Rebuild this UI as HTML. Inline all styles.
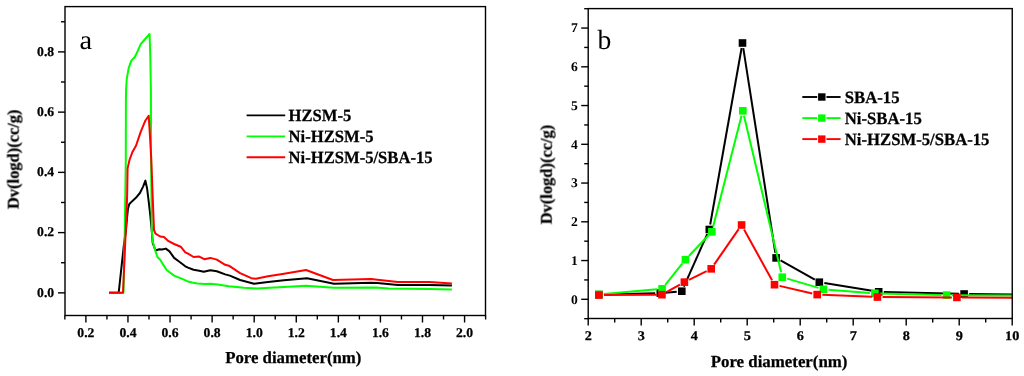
<!DOCTYPE html>
<html><head><meta charset="utf-8"><title>Pore size distribution</title>
<style>
html,body{margin:0;padding:0;background:#fff;}
body{width:1024px;height:376px;overflow:hidden;}
svg{display:block;}
svg text{font-family:"Liberation Serif","DejaVu Serif",serif;fill:#000;text-rendering:geometricPrecision;}
</style></head><body>
<svg width="1024" height="376" viewBox="0 0 1024 376">
<rect x="0" y="0" width="1024" height="376" fill="#ffffff"/>
<defs><filter id="soft" x="0" y="0" width="1024" height="376" filterUnits="userSpaceOnUse"><feGaussianBlur stdDeviation="0.4"/></filter></defs>
<g filter="url(#soft)">
<polyline points="109.0,292.7 118.7,292.7 123.9,244.9 126.0,230.0 127.0,218.0 127.9,209.3 129.2,204.2 131.9,201.4 135.9,197.8 139.9,193.0 143.1,186.6 145.4,180.6 147.1,188.5 148.7,201.5 150.3,215.5 151.7,230.0 152.7,243.0 155.5,250.5 159.3,249.2 162.0,249.5 165.8,248.6 169.5,251.4 174.1,257.9 179.7,262.0 185.3,266.3 188.0,267.6 193.6,269.8 199.2,270.7 203.8,271.8 210.3,270.3 216.8,271.3 225.2,274.4 229.9,275.6 240.1,280.0 254.0,283.7 268.0,281.9 284.0,280.2 307.0,278.2 334.0,283.7 371.2,282.8 377.4,283.0 397.9,284.9 429.5,284.9 451.9,285.6" fill="none" stroke="#000000" stroke-width="2.0" stroke-linejoin="round" stroke-linecap="butt"/>
<polyline points="109.0,292.7 123.5,292.7 124.8,230.0 125.8,160.0 125.9,100.0 126.1,90.0 126.7,79.5 128.6,68.4 131.3,60.6 134.7,57.2 137.9,50.7 140.7,44.2 144.7,39.5 149.6,34.0 150.3,57.0 150.9,90.0 151.1,160.0 151.8,230.0 152.7,241.2 155.2,250.5 157.4,257.0 160.2,259.8 163.0,264.4 166.7,270.0 174.1,275.6 181.6,278.7 187.2,281.2 192.0,282.5 197.3,283.4 204.7,284.1 210.3,283.7 217.8,284.5 228.9,286.3 243.8,287.8 256.8,288.4 269.9,287.7 284.0,286.9 306.0,285.8 334.0,287.8 376.0,287.6 388.6,288.6 429.5,289.0 451.9,289.5" fill="none" stroke="#00ff00" stroke-width="2.0" stroke-linejoin="round" stroke-linecap="butt"/>
<polyline points="109.0,292.7 123.0,292.7 125.8,230.0 127.1,197.2 127.6,168.4 129.5,160.0 132.3,152.3 136.0,145.8 140.7,131.9 145.3,120.7 148.7,115.7 150.0,136.5 151.3,160.0 152.7,197.0 154.0,230.0 155.5,233.7 160.2,236.5 163.9,237.0 168.6,241.2 174.1,244.0 180.7,246.7 185.3,252.3 188.0,253.6 193.6,257.0 199.2,256.6 204.4,259.2 210.3,257.9 216.8,259.6 225.2,264.8 228.9,265.7 240.1,273.1 251.3,278.2 255.9,278.7 268.0,276.3 284.0,273.7 306.0,270.0 333.0,280.0 371.2,279.1 377.4,279.7 397.9,281.9 429.5,281.9 451.9,283.4" fill="none" stroke="#ff0000" stroke-width="2.0" stroke-linejoin="round" stroke-linecap="butt"/>
<rect x="65.0" y="6.6" width="420.5" height="308.9" fill="none" stroke="#000" stroke-width="1.4"/>
<line x1="58.00" y1="292.85" x2="65.00" y2="292.85" stroke="#000" stroke-width="1.4"/>
<text transform="translate(54.20,296.65) scale(1.02,1.0)" font-size="13.4" font-weight="bold" text-anchor="end" stroke="#000" stroke-width="0.25" >0.0</text>
<line x1="61.00" y1="262.73" x2="65.00" y2="262.73" stroke="#000" stroke-width="1.4"/>
<line x1="58.00" y1="232.61" x2="65.00" y2="232.61" stroke="#000" stroke-width="1.4"/>
<text transform="translate(54.20,236.41) scale(1.02,1.0)" font-size="13.4" font-weight="bold" text-anchor="end" stroke="#000" stroke-width="0.25" >0.2</text>
<line x1="61.00" y1="202.49" x2="65.00" y2="202.49" stroke="#000" stroke-width="1.4"/>
<line x1="58.00" y1="172.37" x2="65.00" y2="172.37" stroke="#000" stroke-width="1.4"/>
<text transform="translate(54.20,176.17) scale(1.02,1.0)" font-size="13.4" font-weight="bold" text-anchor="end" stroke="#000" stroke-width="0.25" >0.4</text>
<line x1="61.00" y1="142.25" x2="65.00" y2="142.25" stroke="#000" stroke-width="1.4"/>
<line x1="58.00" y1="112.13" x2="65.00" y2="112.13" stroke="#000" stroke-width="1.4"/>
<text transform="translate(54.20,115.93) scale(1.02,1.0)" font-size="13.4" font-weight="bold" text-anchor="end" stroke="#000" stroke-width="0.25" >0.6</text>
<line x1="61.00" y1="82.01" x2="65.00" y2="82.01" stroke="#000" stroke-width="1.4"/>
<line x1="58.00" y1="51.89" x2="65.00" y2="51.89" stroke="#000" stroke-width="1.4"/>
<text transform="translate(54.20,55.69) scale(1.02,1.0)" font-size="13.4" font-weight="bold" text-anchor="end" stroke="#000" stroke-width="0.25" >0.8</text>
<line x1="61.00" y1="21.77" x2="65.00" y2="21.77" stroke="#000" stroke-width="1.4"/>
<line x1="64.85" y1="315.50" x2="64.85" y2="319.50" stroke="#000" stroke-width="1.4"/>
<line x1="85.89" y1="315.50" x2="85.89" y2="322.50" stroke="#000" stroke-width="1.4"/>
<text transform="translate(85.89,336.70) scale(1.02,1.0)" font-size="13.4" font-weight="bold" text-anchor="middle" stroke="#000" stroke-width="0.25" >0.2</text>
<line x1="106.93" y1="315.50" x2="106.93" y2="319.50" stroke="#000" stroke-width="1.4"/>
<line x1="127.96" y1="315.50" x2="127.96" y2="322.50" stroke="#000" stroke-width="1.4"/>
<text transform="translate(127.96,336.70) scale(1.02,1.0)" font-size="13.4" font-weight="bold" text-anchor="middle" stroke="#000" stroke-width="0.25" >0.4</text>
<line x1="149.00" y1="315.50" x2="149.00" y2="319.50" stroke="#000" stroke-width="1.4"/>
<line x1="170.04" y1="315.50" x2="170.04" y2="322.50" stroke="#000" stroke-width="1.4"/>
<text transform="translate(170.04,336.70) scale(1.02,1.0)" font-size="13.4" font-weight="bold" text-anchor="middle" stroke="#000" stroke-width="0.25" >0.6</text>
<line x1="191.08" y1="315.50" x2="191.08" y2="319.50" stroke="#000" stroke-width="1.4"/>
<line x1="212.12" y1="315.50" x2="212.12" y2="322.50" stroke="#000" stroke-width="1.4"/>
<text transform="translate(212.12,336.70) scale(1.02,1.0)" font-size="13.4" font-weight="bold" text-anchor="middle" stroke="#000" stroke-width="0.25" >0.8</text>
<line x1="233.15" y1="315.50" x2="233.15" y2="319.50" stroke="#000" stroke-width="1.4"/>
<line x1="254.19" y1="315.50" x2="254.19" y2="322.50" stroke="#000" stroke-width="1.4"/>
<text transform="translate(254.19,336.70) scale(1.02,1.0)" font-size="13.4" font-weight="bold" text-anchor="middle" stroke="#000" stroke-width="0.25" >1.0</text>
<line x1="275.23" y1="315.50" x2="275.23" y2="319.50" stroke="#000" stroke-width="1.4"/>
<line x1="296.27" y1="315.50" x2="296.27" y2="322.50" stroke="#000" stroke-width="1.4"/>
<text transform="translate(296.27,336.70) scale(1.02,1.0)" font-size="13.4" font-weight="bold" text-anchor="middle" stroke="#000" stroke-width="0.25" >1.2</text>
<line x1="317.31" y1="315.50" x2="317.31" y2="319.50" stroke="#000" stroke-width="1.4"/>
<line x1="338.34" y1="315.50" x2="338.34" y2="322.50" stroke="#000" stroke-width="1.4"/>
<text transform="translate(338.34,336.70) scale(1.02,1.0)" font-size="13.4" font-weight="bold" text-anchor="middle" stroke="#000" stroke-width="0.25" >1.4</text>
<line x1="359.38" y1="315.50" x2="359.38" y2="319.50" stroke="#000" stroke-width="1.4"/>
<line x1="380.42" y1="315.50" x2="380.42" y2="322.50" stroke="#000" stroke-width="1.4"/>
<text transform="translate(380.42,336.70) scale(1.02,1.0)" font-size="13.4" font-weight="bold" text-anchor="middle" stroke="#000" stroke-width="0.25" >1.6</text>
<line x1="401.46" y1="315.50" x2="401.46" y2="319.50" stroke="#000" stroke-width="1.4"/>
<line x1="422.50" y1="315.50" x2="422.50" y2="322.50" stroke="#000" stroke-width="1.4"/>
<text transform="translate(422.50,336.70) scale(1.02,1.0)" font-size="13.4" font-weight="bold" text-anchor="middle" stroke="#000" stroke-width="0.25" >1.8</text>
<line x1="443.53" y1="315.50" x2="443.53" y2="319.50" stroke="#000" stroke-width="1.4"/>
<line x1="464.57" y1="315.50" x2="464.57" y2="322.50" stroke="#000" stroke-width="1.4"/>
<text transform="translate(464.57,336.70) scale(1.02,1.0)" font-size="13.4" font-weight="bold" text-anchor="middle" stroke="#000" stroke-width="0.25" >2.0</text>
<line x1="485.61" y1="315.50" x2="485.61" y2="319.50" stroke="#000" stroke-width="1.4"/>
<text transform="translate(293.30,363.10)" font-size="16.8" font-weight="bold" text-anchor="middle" stroke="#000" stroke-width="0.25" >Pore diameter(nm)</text>
<text transform="translate(18.60,159.30) rotate(-90)" font-size="16.45" font-weight="bold" text-anchor="middle" stroke="#000" stroke-width="0.25" >Dv(logd)(cc/g)</text>
<text transform="translate(79.40,48.50) scale(1.0,0.95)" font-size="28.5" font-weight="normal" text-anchor="start"  >a</text>
<line x1="246.60" y1="115.40" x2="285.20" y2="115.40" stroke="#000000" stroke-width="1.9"/>
<text transform="translate(288.60,121.40) scale(1.0,1.03)" font-size="16.62" font-weight="bold" text-anchor="start" stroke="#000" stroke-width="0.25" >HZSM-5</text>
<line x1="246.60" y1="136.40" x2="285.20" y2="136.40" stroke="#00ff00" stroke-width="1.9"/>
<text transform="translate(288.60,142.40) scale(1.0,1.03)" font-size="16.62" font-weight="bold" text-anchor="start" stroke="#000" stroke-width="0.25" >Ni-HZSM-5</text>
<line x1="246.60" y1="157.20" x2="285.20" y2="157.20" stroke="#ff0000" stroke-width="1.9"/>
<text transform="translate(288.60,163.20) scale(1.0,1.03)" font-size="16.62" font-weight="bold" text-anchor="start" stroke="#000" stroke-width="0.25" >Ni-HZSM-5/SBA-15</text>
<clipPath id="cr"><rect x="588.5" y="8.6" width="423.75" height="309.9"/></clipPath>
<g clip-path="url(#cr)">
<line x1="603.95" y1="294.48" x2="655.20" y2="293.22" stroke="#000000" stroke-width="2.0"/>
<line x1="665.38" y1="292.65" x2="676.72" y2="291.65" stroke="#000000" stroke-width="2.0"/>
<line x1="683.88" y1="286.54" x2="707.22" y2="234.16" stroke="#000000" stroke-width="2.0"/>
<line x1="710.19" y1="224.48" x2="741.61" y2="48.02" stroke="#000000" stroke-width="2.0"/>
<line x1="743.29" y1="48.04" x2="775.31" y2="252.86" stroke="#000000" stroke-width="2.0"/>
<line x1="780.55" y1="260.40" x2="814.85" y2="279.70" stroke="#000000" stroke-width="2.0"/>
<line x1="824.33" y1="283.01" x2="873.67" y2="290.99" stroke="#000000" stroke-width="2.0"/>
<line x1="883.80" y1="291.93" x2="959.00" y2="293.87" stroke="#000000" stroke-width="2.0"/>
<line x1="969.20" y1="294.06" x2="1064.90" y2="295.24" stroke="#000000" stroke-width="2.0"/>
<rect x="595.05" y="290.80" width="7.6" height="7.6" fill="#000000"/>
<rect x="656.50" y="289.30" width="7.6" height="7.6" fill="#000000"/>
<rect x="678.00" y="287.40" width="7.6" height="7.6" fill="#000000"/>
<rect x="705.50" y="225.70" width="7.6" height="7.6" fill="#000000"/>
<rect x="738.70" y="39.20" width="7.6" height="7.6" fill="#000000"/>
<rect x="772.30" y="254.10" width="7.6" height="7.6" fill="#000000"/>
<rect x="815.50" y="278.40" width="7.6" height="7.6" fill="#000000"/>
<rect x="874.90" y="288.00" width="7.6" height="7.6" fill="#000000"/>
<rect x="960.30" y="290.20" width="7.6" height="7.6" fill="#000000"/>
<rect x="1066.20" y="291.50" width="7.6" height="7.6" fill="#000000"/>
<line x1="603.93" y1="293.95" x2="657.02" y2="289.25" stroke="#00ff00" stroke-width="2.0"/>
<line x1="665.29" y1="284.82" x2="682.21" y2="263.68" stroke="#00ff00" stroke-width="2.0"/>
<line x1="688.91" y1="256.00" x2="708.34" y2="235.50" stroke="#00ff00" stroke-width="2.0"/>
<line x1="713.11" y1="226.86" x2="741.54" y2="115.74" stroke="#00ff00" stroke-width="2.0"/>
<line x1="743.98" y1="115.76" x2="781.12" y2="272.24" stroke="#00ff00" stroke-width="2.0"/>
<line x1="787.19" y1="278.64" x2="818.51" y2="287.86" stroke="#00ff00" stroke-width="2.0"/>
<line x1="828.48" y1="289.69" x2="869.82" y2="292.91" stroke="#00ff00" stroke-width="2.0"/>
<line x1="880.00" y1="293.43" x2="941.50" y2="294.97" stroke="#00ff00" stroke-width="2.0"/>
<line x1="951.70" y1="295.14" x2="1064.90" y2="295.96" stroke="#00ff00" stroke-width="2.0"/>
<rect x="595.05" y="290.60" width="7.6" height="7.6" fill="#00ff00"/>
<rect x="658.30" y="285.00" width="7.6" height="7.6" fill="#00ff00"/>
<rect x="681.60" y="255.90" width="7.6" height="7.6" fill="#00ff00"/>
<rect x="708.05" y="228.00" width="7.6" height="7.6" fill="#00ff00"/>
<rect x="739.00" y="107.00" width="7.6" height="7.6" fill="#00ff00"/>
<rect x="778.50" y="273.40" width="7.6" height="7.6" fill="#00ff00"/>
<rect x="819.60" y="285.50" width="7.6" height="7.6" fill="#00ff00"/>
<rect x="871.10" y="289.50" width="7.6" height="7.6" fill="#00ff00"/>
<rect x="942.80" y="291.30" width="7.6" height="7.6" fill="#00ff00"/>
<rect x="1066.20" y="292.20" width="7.6" height="7.6" fill="#00ff00"/>
<line x1="603.95" y1="295.02" x2="656.85" y2="294.73" stroke="#ff0000" stroke-width="2.0"/>
<line x1="666.40" y1="292.21" x2="679.95" y2="284.64" stroke="#ff0000" stroke-width="2.0"/>
<line x1="688.97" y1="279.88" x2="706.63" y2="271.12" stroke="#ff0000" stroke-width="2.0"/>
<line x1="714.11" y1="264.66" x2="738.69" y2="229.19" stroke="#ff0000" stroke-width="2.0"/>
<line x1="744.06" y1="229.47" x2="772.04" y2="280.23" stroke="#ff0000" stroke-width="2.0"/>
<line x1="779.47" y1="285.85" x2="812.23" y2="293.45" stroke="#ff0000" stroke-width="2.0"/>
<line x1="822.30" y1="294.81" x2="872.30" y2="296.84" stroke="#ff0000" stroke-width="2.0"/>
<line x1="882.50" y1="297.07" x2="951.80" y2="297.38" stroke="#ff0000" stroke-width="2.0"/>
<line x1="962.00" y1="297.44" x2="1064.90" y2="298.16" stroke="#ff0000" stroke-width="2.0"/>
<rect x="595.05" y="291.25" width="7.6" height="7.6" fill="#ff0000"/>
<rect x="658.15" y="290.90" width="7.6" height="7.6" fill="#ff0000"/>
<rect x="680.60" y="278.35" width="7.6" height="7.6" fill="#ff0000"/>
<rect x="707.40" y="265.05" width="7.6" height="7.6" fill="#ff0000"/>
<rect x="737.80" y="221.20" width="7.6" height="7.6" fill="#ff0000"/>
<rect x="770.70" y="280.90" width="7.6" height="7.6" fill="#ff0000"/>
<rect x="813.40" y="290.80" width="7.6" height="7.6" fill="#ff0000"/>
<rect x="873.60" y="293.25" width="7.6" height="7.6" fill="#ff0000"/>
<rect x="953.10" y="293.60" width="7.6" height="7.6" fill="#ff0000"/>
<rect x="1066.20" y="294.40" width="7.6" height="7.6" fill="#ff0000"/>
</g>
<rect x="588.2" y="8.6" width="424.04999999999995" height="309.9" fill="none" stroke="#000" stroke-width="1.4"/>
<line x1="584.20" y1="318.68" x2="588.20" y2="318.68" stroke="#000" stroke-width="1.4"/>
<line x1="581.20" y1="299.30" x2="588.20" y2="299.30" stroke="#000" stroke-width="1.4"/>
<text transform="translate(577.80,303.60) scale(1.03,1.0)" font-size="13.2" font-weight="bold" text-anchor="end"  >0</text>
<line x1="584.20" y1="279.93" x2="588.20" y2="279.93" stroke="#000" stroke-width="1.4"/>
<line x1="581.20" y1="260.55" x2="588.20" y2="260.55" stroke="#000" stroke-width="1.4"/>
<text transform="translate(577.80,264.85) scale(1.03,1.0)" font-size="13.2" font-weight="bold" text-anchor="end"  >1</text>
<line x1="584.20" y1="241.18" x2="588.20" y2="241.18" stroke="#000" stroke-width="1.4"/>
<line x1="581.20" y1="221.80" x2="588.20" y2="221.80" stroke="#000" stroke-width="1.4"/>
<text transform="translate(577.80,226.10) scale(1.03,1.0)" font-size="13.2" font-weight="bold" text-anchor="end"  >2</text>
<line x1="584.20" y1="202.43" x2="588.20" y2="202.43" stroke="#000" stroke-width="1.4"/>
<line x1="581.20" y1="183.05" x2="588.20" y2="183.05" stroke="#000" stroke-width="1.4"/>
<text transform="translate(577.80,187.35) scale(1.03,1.0)" font-size="13.2" font-weight="bold" text-anchor="end"  >3</text>
<line x1="584.20" y1="163.68" x2="588.20" y2="163.68" stroke="#000" stroke-width="1.4"/>
<line x1="581.20" y1="144.30" x2="588.20" y2="144.30" stroke="#000" stroke-width="1.4"/>
<text transform="translate(577.80,148.60) scale(1.03,1.0)" font-size="13.2" font-weight="bold" text-anchor="end"  >4</text>
<line x1="584.20" y1="124.93" x2="588.20" y2="124.93" stroke="#000" stroke-width="1.4"/>
<line x1="581.20" y1="105.55" x2="588.20" y2="105.55" stroke="#000" stroke-width="1.4"/>
<text transform="translate(577.80,109.85) scale(1.03,1.0)" font-size="13.2" font-weight="bold" text-anchor="end"  >5</text>
<line x1="584.20" y1="86.18" x2="588.20" y2="86.18" stroke="#000" stroke-width="1.4"/>
<line x1="581.20" y1="66.80" x2="588.20" y2="66.80" stroke="#000" stroke-width="1.4"/>
<text transform="translate(577.80,71.10) scale(1.03,1.0)" font-size="13.2" font-weight="bold" text-anchor="end"  >6</text>
<line x1="584.20" y1="47.43" x2="588.20" y2="47.43" stroke="#000" stroke-width="1.4"/>
<line x1="581.20" y1="28.05" x2="588.20" y2="28.05" stroke="#000" stroke-width="1.4"/>
<text transform="translate(577.80,32.35) scale(1.03,1.0)" font-size="13.2" font-weight="bold" text-anchor="end"  >7</text>
<line x1="584.20" y1="8.68" x2="588.20" y2="8.68" stroke="#000" stroke-width="1.4"/>
<line x1="588.20" y1="318.50" x2="588.20" y2="325.50" stroke="#000" stroke-width="1.4"/>
<text transform="translate(588.20,339.80) scale(1.08,1.0)" font-size="13.2" font-weight="bold" text-anchor="middle" stroke="#000" stroke-width="0.25" >2</text>
<line x1="614.70" y1="318.50" x2="614.70" y2="322.50" stroke="#000" stroke-width="1.4"/>
<line x1="641.20" y1="318.50" x2="641.20" y2="325.50" stroke="#000" stroke-width="1.4"/>
<text transform="translate(641.20,339.80) scale(1.08,1.0)" font-size="13.2" font-weight="bold" text-anchor="middle" stroke="#000" stroke-width="0.25" >3</text>
<line x1="667.70" y1="318.50" x2="667.70" y2="322.50" stroke="#000" stroke-width="1.4"/>
<line x1="694.20" y1="318.50" x2="694.20" y2="325.50" stroke="#000" stroke-width="1.4"/>
<text transform="translate(694.20,339.80) scale(1.08,1.0)" font-size="13.2" font-weight="bold" text-anchor="middle" stroke="#000" stroke-width="0.25" >4</text>
<line x1="720.70" y1="318.50" x2="720.70" y2="322.50" stroke="#000" stroke-width="1.4"/>
<line x1="747.20" y1="318.50" x2="747.20" y2="325.50" stroke="#000" stroke-width="1.4"/>
<text transform="translate(747.20,339.80) scale(1.08,1.0)" font-size="13.2" font-weight="bold" text-anchor="middle" stroke="#000" stroke-width="0.25" >5</text>
<line x1="773.70" y1="318.50" x2="773.70" y2="322.50" stroke="#000" stroke-width="1.4"/>
<line x1="800.20" y1="318.50" x2="800.20" y2="325.50" stroke="#000" stroke-width="1.4"/>
<text transform="translate(800.20,339.80) scale(1.08,1.0)" font-size="13.2" font-weight="bold" text-anchor="middle" stroke="#000" stroke-width="0.25" >6</text>
<line x1="826.70" y1="318.50" x2="826.70" y2="322.50" stroke="#000" stroke-width="1.4"/>
<line x1="853.20" y1="318.50" x2="853.20" y2="325.50" stroke="#000" stroke-width="1.4"/>
<text transform="translate(853.20,339.80) scale(1.08,1.0)" font-size="13.2" font-weight="bold" text-anchor="middle" stroke="#000" stroke-width="0.25" >7</text>
<line x1="879.70" y1="318.50" x2="879.70" y2="322.50" stroke="#000" stroke-width="1.4"/>
<line x1="906.20" y1="318.50" x2="906.20" y2="325.50" stroke="#000" stroke-width="1.4"/>
<text transform="translate(906.20,339.80) scale(1.08,1.0)" font-size="13.2" font-weight="bold" text-anchor="middle" stroke="#000" stroke-width="0.25" >8</text>
<line x1="932.70" y1="318.50" x2="932.70" y2="322.50" stroke="#000" stroke-width="1.4"/>
<line x1="959.20" y1="318.50" x2="959.20" y2="325.50" stroke="#000" stroke-width="1.4"/>
<text transform="translate(959.20,339.80) scale(1.08,1.0)" font-size="13.2" font-weight="bold" text-anchor="middle" stroke="#000" stroke-width="0.25" >9</text>
<line x1="985.70" y1="318.50" x2="985.70" y2="322.50" stroke="#000" stroke-width="1.4"/>
<line x1="1012.20" y1="318.50" x2="1012.20" y2="325.50" stroke="#000" stroke-width="1.4"/>
<text transform="translate(1012.20,339.80) scale(1.08,1.0)" font-size="13.2" font-weight="bold" text-anchor="middle" stroke="#000" stroke-width="0.25" >10</text>
<text transform="translate(779.10,366.75)" font-size="16.85" font-weight="bold" text-anchor="middle" stroke="#000" stroke-width="0.25" >Pore diameter(nm)</text>
<text transform="translate(551.70,174.50) rotate(-90)" font-size="16.45" font-weight="bold" text-anchor="middle" stroke="#000" stroke-width="0.25" >Dv(logd)(cc/g)</text>
<text transform="translate(597.40,49.05)" font-size="27.6" font-weight="normal" text-anchor="start"  >b</text>
<line x1="802.30" y1="97.00" x2="817.20" y2="97.00" stroke="#000000" stroke-width="1.9"/>
<line x1="826.40" y1="97.00" x2="840.60" y2="97.00" stroke="#000000" stroke-width="1.9"/>
<rect x="818.10" y="93.30" width="7.4" height="7.4" fill="#000000"/>
<text transform="translate(844.80,102.80) scale(1.0,1.03)" font-size="16.7" font-weight="bold" text-anchor="start" stroke="#000" stroke-width="0.25" >SBA-15</text>
<line x1="802.30" y1="118.10" x2="817.20" y2="118.10" stroke="#00ff00" stroke-width="1.9"/>
<line x1="826.40" y1="118.10" x2="840.60" y2="118.10" stroke="#00ff00" stroke-width="1.9"/>
<rect x="818.10" y="114.40" width="7.4" height="7.4" fill="#00ff00"/>
<text transform="translate(844.80,123.90) scale(1.0,1.03)" font-size="16.7" font-weight="bold" text-anchor="start" stroke="#000" stroke-width="0.25" >Ni-SBA-15</text>
<line x1="802.30" y1="139.10" x2="817.20" y2="139.10" stroke="#ff0000" stroke-width="1.9"/>
<line x1="826.40" y1="139.10" x2="840.60" y2="139.10" stroke="#ff0000" stroke-width="1.9"/>
<rect x="818.10" y="135.40" width="7.4" height="7.4" fill="#ff0000"/>
<text transform="translate(844.80,144.90) scale(1.0,1.03)" font-size="16.7" font-weight="bold" text-anchor="start" stroke="#000" stroke-width="0.25" >Ni-HZSM-5/SBA-15</text>
</g>
</svg>
</body></html>
